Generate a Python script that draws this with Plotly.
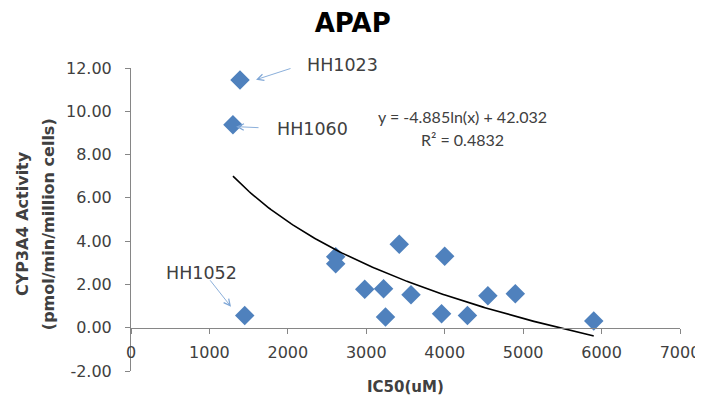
import numpy as np
import plotly.graph_objects as go

# Data
ic50 = [1390, 1300, 1450, 2610, 2610, 2980, 3220, 3245, 3420, 3570, 4000, 3960, 4290, 4550, 4900, 5900]
activity = [11.45, 9.38, 0.56, 3.28, 2.95, 1.78, 1.8, 0.5, 3.86, 1.52, 3.3, 0.65, 0.57, 1.48, 1.57, 0.31]

fit_a = -4.885
fit_b = 42.032
fit_r2 = 0.4832
fit_xmin, fit_xmax = 1300, 5900

labels = ["HH1023", "HH1060", "HH1052"]
label_text_x = [2700, 2310, 893]
label_text_y = [11.8, 9.2, 2.55]
label_yshift = [7, 0, 0]
arrow_tail_x = [2053, 1645, 994]
arrow_tail_y = [12.0, 9.24, 2.26]
arrow_head_x = [1594, 1340, 1275]
arrow_head_y = [11.46, 9.29, 0.97]

x_ticks = [0, 1000, 2000, 3000, 4000, 5000, 6000, 7000]
y_ticks = [-2, 0, 2, 4, 6, 8, 10, 12]
y_ticktext = ["%.2f" % v for v in y_ticks]

fx = np.linspace(fit_xmin, fit_xmax, 200)
fy = fit_a * np.log(fx) + fit_b

FONT = "DejaVu Sans, sans-serif"
EQFONT = "Lato, sans-serif"
BLUE = "#4F81BD"
TXT = "#404040"

fig = go.Figure()
fig.add_trace(go.Scatter(x=ic50, y=activity, mode="markers",
                         marker=dict(symbol="diamond", size=15, color=BLUE),
                         showlegend=False, cliponaxis=False))
fig.add_trace(go.Scatter(x=fx, y=fy, mode="lines",
                         line=dict(color="black", width=1.6),
                         showlegend=False, cliponaxis=False))

annotations = []
for t, tx, ty, ys in zip(labels, label_text_x, label_text_y, label_yshift):
    annotations.append(dict(x=tx, y=ty, xref="x", yref="y", text=t, showarrow=False,
                            yshift=ys, font=dict(family=FONT, size=17.5, color=TXT)))
for hx, hy, tx, ty in zip(arrow_head_x, arrow_head_y, arrow_tail_x, arrow_tail_y):
    annotations.append(dict(x=hx, y=hy, xref="x", yref="y", ax=tx, ay=ty,
                            axref="x", ayref="y", text="", showarrow=True,
                            arrowhead=5, arrowsize=1.4, arrowwidth=0.9,
                            arrowcolor="#7EA6D6"))
annotations.append(dict(x=4233, y=9.75, xref="x", yref="y",
                        text=f"y = {fit_a}ln(x) + {fit_b}", showarrow=False,
                        font=dict(family=EQFONT, size=16, color=TXT)))
annotations.append(dict(x=4233, y=8.68, xref="x", yref="y",
                        text=f"R² = {fit_r2}", showarrow=False,
                        font=dict(family=EQFONT, size=16, color=TXT)))
# Axis titles
annotations.append(dict(x=0.5, y=-0.0528, xref="paper", yref="paper",
                        text="<b>IC50(uM)</b>", showarrow=False, yanchor="middle",
                        font=dict(family=FONT, size=15, color=TXT)))
annotations.append(dict(x=-0.1985, y=0.485, xref="paper", yref="paper",
                        text="<b>CYP3A4 Activity</b>", showarrow=False, textangle=-90,
                        xanchor="center", yanchor="middle",
                        font=dict(family=FONT, size=16, color=TXT)))
annotations.append(dict(x=-0.151, y=0.485, xref="paper", yref="paper",
                        text="<b>(pmol/min/million cells)</b>", showarrow=False, textangle=-90,
                        xanchor="center", yanchor="middle",
                        font=dict(family=FONT, size=16, color=TXT)))

# page body has an 8px margin, so the figure is 8px smaller than the window
fig.update_layout(
    width=695, height=392,
    margin=dict(l=123, r=23, t=60, b=29, autoexpand=False),
    paper_bgcolor="white", plot_bgcolor="white",
    title=dict(text="<b>APAP</b>", x=0.496, xref="container", xanchor="center",
               y=0.963, yanchor="middle", automargin=False,
               font=dict(family=FONT, size=26, color="black")),
    font=dict(family=FONT, size=16, color=TXT),
    annotations=annotations,
    xaxis=dict(range=[0, 7000], tickvals=x_ticks, ticktext=[str(v) for v in x_ticks],
               showgrid=False, zeroline=False, showline=True, linecolor="#868686",
               ticks="outside", ticklen=5, tickcolor="#868686", ticklabelstandoff=5,
               ticklabeloverflow="allow",
               anchor="free", position=2/14, automargin=False,
               tickfont=dict(family=FONT, size=16, color=TXT)),
    yaxis=dict(range=[-2, 12], tickvals=y_ticks, ticktext=y_ticktext,
               showgrid=False, zeroline=False, showline=True, linecolor="#868686",
               ticks="outside", ticklen=5, tickcolor="#868686", automargin=False,
               ticklabelstandoff=10,
               tickfont=dict(family=FONT, size=16, color=TXT)),
)

fig.write_html("out.html")
